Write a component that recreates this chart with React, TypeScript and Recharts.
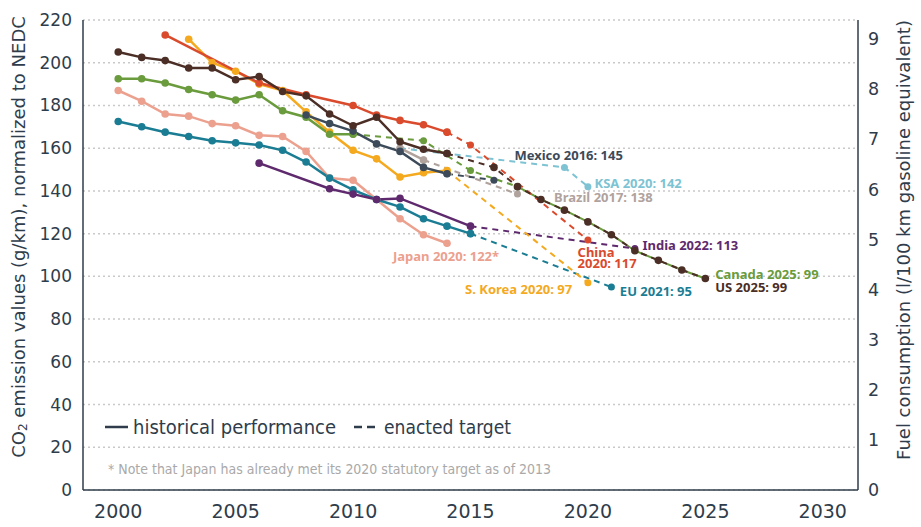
import React from "react";
import {
  LineChart,
  Line,
  XAxis,
  YAxis,
  CartesianGrid,
  ReferenceDot,
  Label,
} from "recharts";

const AXIS_COLOR = "#2f3c4b";
const TICK_FONT = "'DejaVu Sans', sans-serif";
const LABEL_FONT = "'Noto Sans', sans-serif";
const NARROW_FONT = "'Liberation Sans Narrow', 'DejaVu Sans Condensed', 'Roboto', sans-serif";

const xTicks = [2000, 2005, 2010, 2015, 2020, 2025, 2030];
const leftTicks = [0, 20, 40, 60, 80, 100, 120, 140, 160, 180, 200, 220];
const rightTicks = [0, 1, 2, 3, 4, 5, 6, 7, 8, 9];

// US
const usHistYears = [2000, 2001, 2002, 2003, 2004, 2005, 2006, 2007, 2008, 2009, 2010, 2011, 2012, 2013, 2014];
const usHistValues = [205, 202.5, 201, 197.5, 197.5, 192, 193.5, 186.5, 184.5, 176, 170.5, 174.5, 163, 159.5, 157.5];
const usTargetYears = [2014, 2016, 2017, 2018, 2019, 2020, 2021, 2022, 2023, 2024, 2025];
const usTargetValues = [157.5, 151, 142, 136, 131, 125.5, 119.5, 112, 107.5, 103, 99];

// Canada
const canadaHistYears = [2000, 2001, 2002, 2003, 2004, 2005, 2006, 2007, 2008, 2009, 2010];
const canadaHistValues = [192.5, 192.5, 190.5, 187.5, 185, 182.5, 185, 177.5, 174.5, 166.5, 166.5];
const canadaTargetYears = [2010, 2013, 2015, 2017];
const canadaTargetValues = [166.5, 163.5, 149.5, 142];
const canadaTrackYears = [2017, 2018, 2019, 2020, 2021, 2022, 2023, 2024, 2025];
const canadaTrackValues = [142, 136, 131, 125.5, 119.5, 112, 107.5, 103, 99];

// China
const chinaHistYears = [2002, 2006, 2008, 2010, 2011, 2012, 2013, 2014];
const chinaHistValues = [213, 190.5, 185, 180, 175.5, 173, 171, 167.5];
const chinaTargetYears = [2014, 2015, 2020];
const chinaTargetValues = [167.5, 161.5, 117];

// S. Korea
const koreaHistYears = [2003, 2004, 2005, 2006, 2007, 2008, 2009, 2010, 2011, 2012, 2013, 2014];
const koreaHistValues = [211, 200, 196, 190, 187, 177, 167.5, 159, 155, 146.5, 148.5, 149.5];
const koreaTargetYears = [2014, 2020];
const koreaTargetValues = [149.5, 97];

// Japan
const japanHistYears = [2000, 2001, 2002, 2003, 2004, 2005, 2006, 2007, 2008, 2009, 2010, 2011, 2012, 2013, 2014];
const japanHistValues = [187, 182, 176, 175, 171.5, 170.5, 166, 165.5, 158.5, 146, 145, 136, 127, 119.5, 115.5];

// EU
const euHistYears = [2000, 2001, 2002, 2003, 2004, 2005, 2006, 2007, 2008, 2009, 2010, 2011, 2012, 2013, 2014, 2015];
const euHistValues = [172.5, 170, 167.5, 165.5, 163.5, 162.5, 161.5, 159, 153.5, 146, 140.5, 136, 132.5, 127, 123.5, 120];
const euTargetYears = [2015, 2021];
const euTargetValues = [120, 95];

// India
const indiaHistYears = [2006, 2009, 2010, 2011, 2012, 2015];
const indiaHistValues = [153, 141, 138.5, 136, 136.5, 123.5];
const indiaTargetYears = [2015, 2022];
const indiaTargetValues = [123.5, 113];

// Mexico
const mexicoHistYears = [2008, 2009, 2010, 2011, 2012, 2013, 2014];
const mexicoHistValues = [175.5, 171.5, 168, 162, 158.5, 151, 148];
const mexicoTargetYears = [2014, 2016];
const mexicoTargetValues = [148, 145];

// Brazil
const brazilHistYears = [2012, 2013];
const brazilHistValues = [160, 154.5];
const brazilTargetYears = [2013, 2017];
const brazilTargetValues = [154.5, 138.5];

// KSA
const ksaTargetYears = [2012, 2019, 2020];
const ksaTargetValues = [160, 151, 142];

type Pt = { year: number; v: number };
const pts = (years: number[], values: number[]): Pt[] =>
  years.map((year, i) => ({ year, v: values[i] }));

const C = {
  us: "#4b2e26",
  canada: "#6a9b3c",
  china: "#da4a2c",
  korea: "#f4a91e",
  japan: "#eca08e",
  eu: "#1a7d93",
  india: "#5e2a6d",
  mexico: "#3c4a59",
  brazil: "#b0a29d",
  ksa: "#7dc3d3",
};

const targets = [
  { key: "ksa-t", color: C.ksa, data: pts(ksaTargetYears, ksaTargetValues) },
  { key: "brazil-t", color: C.brazil, data: pts(brazilTargetYears, brazilTargetValues) },
  { key: "mexico-t", color: C.mexico, data: pts(mexicoTargetYears, mexicoTargetValues) },
  { key: "india-t", color: C.india, data: pts(indiaTargetYears, indiaTargetValues) },
  { key: "eu-t", color: C.eu, data: pts(euTargetYears, euTargetValues) },
  { key: "korea-t", color: C.korea, data: pts(koreaTargetYears, koreaTargetValues) },
  { key: "china-t", color: C.china, data: pts(chinaTargetYears, chinaTargetValues) },
  { key: "canada-t", color: C.canada, data: pts(canadaTargetYears, canadaTargetValues) },
];

const history = [
  { key: "japan", color: C.japan, data: pts(japanHistYears, japanHistValues) },
  { key: "eu", color: C.eu, data: pts(euHistYears, euHistValues) },
  { key: "india", color: C.india, data: pts(indiaHistYears, indiaHistValues) },
  { key: "korea", color: C.korea, data: pts(koreaHistYears, koreaHistValues) },
  { key: "canada", color: C.canada, data: pts(canadaHistYears, canadaHistValues) },
  { key: "china", color: C.china, data: pts(chinaHistYears, chinaHistValues) },
  { key: "brazil", color: C.brazil, data: pts(brazilHistYears, brazilHistValues) },
  { key: "mexico", color: C.mexico, data: pts(mexicoHistYears, mexicoHistValues) },
  { key: "us", color: C.us, data: pts(usHistYears, usHistValues) },
];

// label anchor (left edge, vertical middle) in data units
const annotations = [
  { lines: ["Mexico 2016: 145"], year: 2016.87, value: 156.8, color: C.mexico },
  { lines: ["KSA 2020: 142"], year: 2020.28, value: 143.9, color: C.ksa },
  { lines: ["Brazil 2017: 138"], year: 2018.56, value: 137.1, color: C.brazil },
  { lines: ["India 2022: 113"], year: 2022.32, value: 114.7, color: C.india },
  { lines: ["China", "2020: 117"], year: 2019.56, value: 111.3, color: C.china },
  { lines: ["Japan 2020: 122*"], year: 2011.7, value: 109.6, color: C.japan },
  { lines: ["S. Korea 2020: 97"], year: 2014.77, value: 94.1, color: C.korea },
  { lines: ["EU 2021: 95"], year: 2021.36, value: 93.2, color: C.eu },
  { lines: ["Canada 2025: 99"], year: 2025.42, value: 101.2, color: C.canada },
  { lines: ["US 2025: 99"], year: 2025.42, value: 94.8, color: C.us },
];

const dotOf = (color: string, r: number) => (p: any) => (
  <circle key={`${color}-${p.cx}-${p.cy}`} cx={p.cx} cy={p.cy} r={r} fill={color} />
);

const annotationContent = (lines: string[], color: string) => (props: any) => {
  const vb = props.viewBox || {};
  const x = vb.x + (vb.width || 0) / 2;
  const y = vb.y + (vb.height || 0) / 2;
  return (
    <text
      x={x}
      y={y}
      fill={color}
      fontFamily={LABEL_FONT}
      fontSize={13}
      fontWeight={700}
      dominantBaseline="central"
    >
      {lines.map((l, i) => (
        <tspan key={l} x={x} dy={i === 0 ? 0 : 11}>
          {l}
        </tspan>
      ))}
    </text>
  );
};

export default function App() {
  return (
    <div style={{ position: "absolute", left: 0, top: 0, width: 921, height: 527, background: "#fff" }}>
      <LineChart
        width={921}
        height={527}
        margin={{ top: 20, right: 0, bottom: 0, left: 0 }}
      >
        <CartesianGrid
          yAxisId="left"
          vertical={false}
          stroke="#c9c9c9"
          strokeWidth={1.5}
          strokeDasharray="2 3"
        />
        <XAxis
          dataKey="year"
          type="number"
          domain={[1998.5, 2031.5]}
          ticks={xTicks}
          allowDataOverflow
          height={37}
          tickSize={0}
          tickMargin={15}
          axisLine={{ stroke: AXIS_COLOR, strokeWidth: 1.5 }}
          tick={{ fill: AXIS_COLOR, fontSize: 19, fontFamily: TICK_FONT }}
        />
        <YAxis
          yAxisId="left"
          dataKey="v"
          type="number"
          domain={[0, 220]}
          ticks={leftTicks}
          allowDataOverflow
          width={83}
          tickSize={0}
          tickMargin={11}
          axisLine={{ stroke: AXIS_COLOR, strokeWidth: 1.5 }}
          tick={{ fill: AXIS_COLOR, fontSize: 17, fontFamily: TICK_FONT }}
        />
        <YAxis
          yAxisId="right"
          orientation="right"
          type="number"
          domain={[0, 9.38]}
          ticks={rightTicks}
          allowDataOverflow
          interval={0}
          width={63}
          tickSize={0}
          tickMargin={10}
          axisLine={{ stroke: AXIS_COLOR, strokeWidth: 1.5 }}
          tick={{ fill: AXIS_COLOR, fontSize: 17.5, fontFamily: TICK_FONT }}
        />

        <Line
          key="canada-track"
          yAxisId="left"
          data={pts(canadaTrackYears, canadaTrackValues)}
          dataKey="v"
          stroke={C.canada}
          strokeWidth={2}
          dot={false}
          isAnimationActive={false}
        />
        {targets.map((s) => (
          <Line
            key={s.key}
            yAxisId="left"
            data={s.data}
            dataKey="v"
            stroke={s.color}
            strokeWidth={2}
            strokeDasharray="6 5"
            dot={dotOf(s.color, 3.5)}
            isAnimationActive={false}
          />
        ))}
        {history.map((s) => (
          <Line
            key={s.key}
            yAxisId="left"
            data={s.data}
            dataKey="v"
            stroke={s.color}
            strokeWidth={2.5}
            dot={dotOf(s.color, 3.8)}
            isAnimationActive={false}
          />
        ))}
        <Line
          key="us-t"
          yAxisId="left"
          data={pts(usTargetYears, usTargetValues)}
          dataKey="v"
          stroke={C.us}
          strokeWidth={2}
          strokeDasharray="6 5"
          dot={dotOf(C.us, 3.8)}
          isAnimationActive={false}
        />

        {annotations.map((a) => (
          <ReferenceDot
            key={a.lines[0]}
            yAxisId="left"
            x={a.year}
            y={a.value}
            r={0}
            fill="none"
            stroke="none"
            ifOverflow="visible"
          >
            <Label content={annotationContent(a.lines, a.color)} />
          </ReferenceDot>
        ))}
      </LineChart>

      <svg
        width={921}
        height={527}
        style={{ position: "absolute", left: 0, top: 0, pointerEvents: "none" }}
      >
        <text
          transform="translate(18,237) rotate(-90)"
          textAnchor="middle"
          dominantBaseline="central"
          fill={AXIS_COLOR}
          fontFamily={TICK_FONT}
          fontSize={18}
        >
          CO
          <tspan fontSize={12} dy={5}>2</tspan>
          <tspan dy={-5}> emission values (g/km), normalized to NEDC</tspan>
        </text>
        <text
          transform="translate(903,240) rotate(-90)"
          textAnchor="middle"
          dominantBaseline="central"
          fill={AXIS_COLOR}
          fontFamily={TICK_FONT}
          fontSize={18}
        >
          Fuel consumption (l/100 km gasoline equivalent)
        </text>

        <line x1={105} x2={128} y1={427} y2={427} stroke={AXIS_COLOR} strokeWidth={2.5} />
        <text x={133} y={434} fill={AXIS_COLOR} fontFamily={NARROW_FONT} fontSize={20} textLength={203} lengthAdjust="spacingAndGlyphs">
          historical performance
        </text>
        <line x1={354} x2={362} y1={427} y2={427} stroke={AXIS_COLOR} strokeWidth={2.5} />
        <line x1={367} x2={375} y1={427} y2={427} stroke={AXIS_COLOR} strokeWidth={2.5} />
        <text x={384} y={434} fill={AXIS_COLOR} fontFamily={NARROW_FONT} fontSize={20} textLength={127} lengthAdjust="spacingAndGlyphs">
          enacted target
        </text>
        <text x={108} y={474} fill="#a9a9a9" fontFamily={NARROW_FONT} fontSize={14} textLength={443} lengthAdjust="spacingAndGlyphs">
          * Note that Japan has already met its 2020 statutory target as of 2013
        </text>
      </svg>
    </div>
  );
}
